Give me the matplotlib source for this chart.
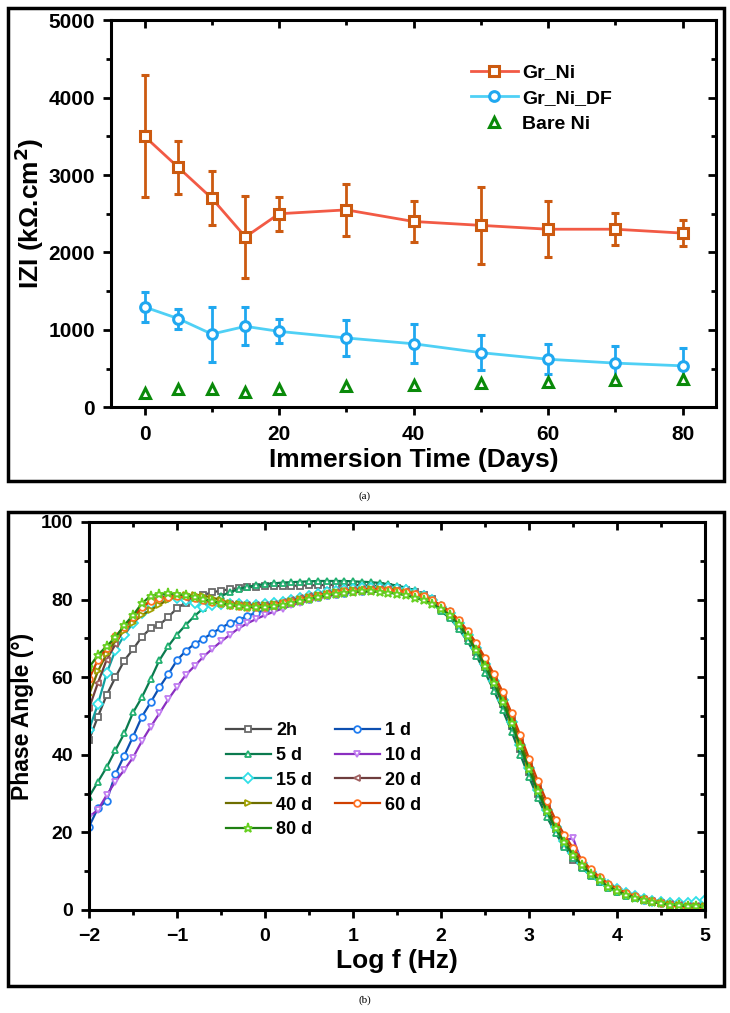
import matplotlib
matplotlib.use('Agg')
import matplotlib.pyplot as plt
import numpy as np
from matplotlib.patches import Rectangle
from matplotlib.lines import Line2D
from matplotlib.ticker import MultipleLocator

plt.rcParams['font.family'] = ['Liberation Sans', 'DejaVu Sans']
plt.rcParams['font.weight'] = 'bold'

#%% (a) impedance modulus vs immersion time
days = [0, 5, 10, 15, 20, 30, 40, 50, 60, 70, 80]
gr_ni = [3500, 3100, 2700, 2200, 2500, 2550, 2400, 2350, 2300, 2300, 2250]
gr_ni_err = [790, 340, 350, 530, 220, 340, 260, 500, 360, 210, 165]
gr_ni_df = [1295, 1145, 945, 1045, 980, 895, 820, 705, 620, 570, 535]
gr_ni_df_err = [200, 130, 355, 245, 155, 235, 250, 230, 195, 215, 235]
bare_ni = [190, 240, 240, 200, 240, 270, 290, 310, 330, 350, 370]

#%% (b) Bode phase, log f = -2 ... 5 in steps of 0.1
logf = np.round(np.arange(-2.0, 5.05, 0.1), 1)

phase_2h = [43.8, 49.8, 55.4, 60.0, 64.3, 67.2, 70.4, 72.6, 73.5, 75.5,
            77.8, 79.2, 80.4, 81.2, 81.9, 82.3, 82.7, 83.0, 83.2, 83.3,
            83.4, 83.5, 83.5, 83.6, 83.6, 83.7, 83.7, 83.8, 83.8, 83.8,
            83.8, 83.7, 83.6, 83.5, 83.3, 83.0, 82.6, 82.0, 81.2, 80.1,
            77.5, 75.8, 73.3, 70.0, 66.5, 62.5, 58.0, 53.0, 47.5, 41.5,
            35.5, 30.0, 25.2, 20.8, 16.8, 13.0, 11.0, 9.0, 7.3, 5.9,
            4.8, 3.9, 3.2, 2.6, 2.1, 1.7, 1.4, 1.2, 1.0, 0.9, 0.8]
phase_1d = [21.5, 26.2, 28.2, 35.0, 39.8, 44.7, 49.8, 53.5, 57.4, 60.8,
            64.4, 66.8, 68.6, 69.9, 71.4, 72.7, 74.0, 74.7, 75.8, 76.6,
            77.3, 78.0, 78.6, 79.2, 79.7, 80.2, 80.7, 81.1, 81.5, 81.8,
            82.1, 82.3, 82.4, 82.4, 82.3, 82.1, 81.7, 81.1, 80.4, 79.4,
            77.9, 76.3, 73.9, 70.8, 67.4, 63.4, 58.9, 54.0, 48.5, 42.4,
            36.4, 30.6, 25.6, 21.2, 17.5, 14.3, 11.6, 9.4, 7.6, 6.1,
            5.0, 4.0, 3.3, 2.7, 2.2, 1.8, 1.5, 1.3, 1.1, 1.0, 0.9]
phase_5d = [29.2, 33.0, 36.8, 41.2, 45.5, 50.9, 54.8, 59.5, 64.4, 68.0,
            71.0, 73.5, 75.8, 77.8, 79.5, 80.9, 81.9, 82.7, 83.3, 83.7,
            84.0, 84.2, 84.4, 84.5, 84.6, 84.7, 84.8, 84.8, 84.8, 84.8,
            84.7, 84.6, 84.5, 84.3, 84.0, 83.6, 83.1, 82.4, 81.4, 80.0,
            77.0, 75.2, 72.5, 69.2, 65.5, 61.2, 56.5, 51.5, 46.0, 40.0,
            34.2, 28.8, 24.0, 19.8, 16.3, 13.3, 10.8, 8.8, 7.1, 5.7,
            4.6, 3.7, 3.0, 2.5, 2.1, 1.8, 1.6, 1.5, 1.5, 1.6, 1.5]
phase_10d = [24.0, 25.8, 29.6, 33.1, 36.1, 39.3, 43.5, 47.2, 50.7, 54.3,
             57.5, 60.6, 62.9, 65.3, 67.3, 69.2, 70.9, 72.6, 73.9, 75.0,
             76.0, 76.9, 77.7, 78.5, 79.2, 79.8, 80.4, 80.9, 81.3, 81.7,
             82.0, 82.2, 82.3, 82.3, 82.2, 82.0, 81.6, 81.0, 80.3, 79.3,
             77.8, 76.2, 73.8, 70.8, 67.4, 63.5, 59.0, 54.2, 48.8, 42.8,
             36.8, 31.0, 26.0, 21.6, 18.0, 18.5, 12.0, 9.6, 7.8, 6.2,
             5.0, 4.0, 3.3, 2.7, 2.2, 1.8, 1.5, 1.3, 1.1, 1.0, 0.9]
phase_15d = [46.5, 53.0, 61.0, 67.0, 70.8, 74.0, 76.5, 78.8, 80.0, 80.6,
             80.3, 79.8, 79.0, 78.2, 78.5, 78.8, 78.9, 78.8, 78.7, 78.7,
             78.8, 79.1, 79.5, 80.0, 80.5, 81.0, 81.5, 81.9, 82.3, 82.6,
             82.8, 83.0, 83.1, 83.1, 83.0, 82.8, 82.4, 81.8, 81.0, 80.0,
             78.2, 76.5, 74.0, 70.9, 67.4, 63.4, 58.9, 54.0, 48.5, 42.5,
             36.5, 30.8, 25.8, 21.4, 17.7, 14.6, 12.0, 9.8, 8.0, 6.5,
             5.3, 4.3, 3.5, 2.9, 2.4, 2.0, 1.8, 1.8, 1.9, 2.0, 2.5]
phase_20d = [52.0, 58.5, 64.5, 68.5, 72.5, 75.5, 78.0, 79.8, 80.6, 80.9,
             80.8, 80.5, 80.1, 79.7, 79.3, 79.0, 78.8, 78.6, 78.5, 78.5,
             78.6, 78.9, 79.3, 79.8, 80.3, 80.8, 81.2, 81.6, 82.0, 82.3,
             82.5, 82.7, 82.8, 82.8, 82.7, 82.5, 82.1, 81.6, 80.9, 80.0,
             78.3, 76.8, 74.5, 71.5, 68.2, 64.3, 59.8, 55.0, 49.6, 43.6,
             37.6, 31.8, 26.7, 22.2, 18.3, 15.0, 12.2, 9.9, 8.0, 6.4,
             5.2, 4.2, 3.4, 2.8, 2.3, 1.9, 1.6, 1.3, 1.1, 1.0, 0.9]
phase_40d = [55.5, 61.5, 66.0, 69.5, 72.0, 74.0, 76.0, 77.3, 78.7, 80.0,
             80.8, 81.1, 81.3, 81.0, 80.5, 79.8, 79.2, 78.8, 78.5, 78.4,
             78.5, 78.8, 79.2, 79.7, 80.2, 80.7, 81.1, 81.5, 81.9, 82.2,
             82.4, 82.6, 82.7, 82.7, 82.6, 82.4, 82.0, 81.5, 80.8, 79.9,
             78.1, 76.6, 74.3, 71.2, 67.9, 64.0, 59.5, 54.7, 49.3, 43.3,
             37.3, 31.5, 26.4, 21.9, 18.1, 14.8, 12.0, 9.7, 7.8, 6.3,
             5.1, 4.1, 3.3, 2.7, 2.2, 1.8, 1.5, 1.3, 1.1, 1.0, 0.9]
phase_60d = [59.5, 64.5, 67.5, 70.5, 73.0, 75.5, 78.0, 79.6, 80.3, 80.7,
             80.9, 80.8, 80.5, 80.0, 79.5, 79.0, 78.6, 78.3, 78.1, 78.1,
             78.2, 78.5, 79.0, 79.5, 80.0, 80.5, 81.0, 81.4, 81.8, 82.1,
             82.3, 82.5, 82.6, 82.6, 82.5, 82.3, 82.0, 81.5, 80.8, 79.8,
             78.5, 77.0, 74.8, 72.0, 68.8, 65.0, 60.8, 56.2, 50.8, 45.0,
             39.0, 33.2, 28.0, 23.3, 19.4, 15.9, 13.0, 10.5, 8.5, 6.8,
             5.5, 4.4, 3.6, 2.9, 2.3, 1.8, 1.2, 0.8, 0.6, 0.5, 0.5]
phase_80d = [62.5, 65.7, 68.0, 70.3, 73.4, 76.0, 79.0, 81.0, 81.4, 81.6,
             81.4, 81.1, 80.6, 80.1, 79.6, 79.1, 78.7, 78.3, 78.1, 78.0,
             78.0, 78.3, 78.7, 79.2, 79.7, 80.2, 80.7, 81.1, 81.5, 81.8,
             82.0, 82.1, 82.1, 82.0, 81.8, 81.5, 81.1, 80.5, 79.8, 78.9,
             77.6, 76.0, 73.6, 70.5, 67.0, 63.0, 58.5, 53.6, 48.2, 42.2,
             36.3, 30.6, 25.6, 21.1, 17.4, 14.2, 11.5, 9.4, 7.6, 6.0,
             4.9, 3.9, 3.2, 2.6, 2.1, 1.7, 1.4, 1.2, 1.0, 0.9, 0.8]

labels_b = ['2h', '1 d', '5 d', '10 d', '15 d', '20 d', '40 d', '60 d', '80 d']
series_b = [phase_2h, phase_1d, phase_5d, phase_10d, phase_15d,
            phase_20d, phase_40d, phase_60d, phase_80d]
line_cols = ['#4a4a4a', '#0d4fb0', '#0b7a4e', '#8a2fc0', '#12a0a0',
             '#6e3d3d', '#6e6e00', '#d04000', '#1f8012']
mark_cols = ['#6a6a6a', '#1f7cf0', '#22b070', '#c07cf0', '#30e0e8',
             '#a06060', '#a0a000', '#ff7020', '#66d020']
marks = ['s', 'o', '^', 'v', 'D', '<', '>', 'o', '*']


def style_axes(ax, fs):
    for sp in ax.spines.values():
        sp.set_linewidth(2.2)
    ax.tick_params(which='both', direction='out', width=2, labelsize=fs, pad=6)
    ax.tick_params(which='major', length=5.5)
    ax.tick_params(which='minor', length=3.5)
    ax.tick_params(axis='x', which='both', pad=7.5)
    ax2 = ax.secondary_xaxis('top')
    ax2.set_xticks(ax.get_xticks(minor=False))
    ax2.xaxis.set_minor_locator(ax.xaxis.get_minor_locator())
    ax2.tick_params(which='both', direction='in', width=2, labeltop=False)
    ax2.tick_params(which='major', length=5.5)
    ax2.tick_params(which='minor', length=3.5)
    ax3 = ax.secondary_yaxis('right')
    ax3.set_yticks(ax.get_yticks(minor=False))
    ax3.yaxis.set_minor_locator(ax.yaxis.get_minor_locator())
    ax3.tick_params(which='both', direction='in', width=2, labelright=False)
    ax3.tick_params(which='major', length=5.5)
    ax3.tick_params(which='minor', length=3.5)
    for t in ax.get_xticklabels() + ax.get_yticklabels():
        t.set_fontweight('bold')


fig = plt.figure(figsize=(7.3, 10.13), dpi=100)

#%% panel (a)
ax1 = fig.add_axes([0.152, 0.598, 0.829, 0.382])
ax1.errorbar(days, gr_ni, yerr=gr_ni_err, color='#f25a45', lw=2, marker='s', ms=6.5,
             mfc='white', mec='#cc5a10', mew=2.2, ecolor='#cc5a10', elinewidth=2,
             capsize=3.2, capthick=2)
ax1.errorbar(days, gr_ni_df, yerr=gr_ni_df_err, color='#4fd0f5', lw=2, marker='o', ms=7,
             mfc='white', mec='#20a8f0', mew=2.2, ecolor='#20a8f0', elinewidth=2,
             capsize=3.2, capthick=2)
ax1.plot(days, bare_ni, ls='none', marker='^', ms=7, mfc='white', mec='#0a8a0a', mew=2.2)
ax1.set_xlim(-5, 85)
ax1.set_ylim(0, 5000)
ax1.xaxis.set_major_locator(MultipleLocator(20))
ax1.xaxis.set_minor_locator(MultipleLocator(10))
ax1.yaxis.set_major_locator(MultipleLocator(1000))
ax1.yaxis.set_minor_locator(MultipleLocator(500))
ax1.set_xlabel('Immersion Time (Days)', fontsize=19, fontweight='bold', labelpad=3)
ax1.set_ylabel('IZI (k\u03a9.cm$^\\mathbf{2}$)', fontsize=19, fontweight='bold', labelpad=2)
style_axes(ax1, 15)
hnd_a = [Line2D([], [], color='#f25a45', lw=2, marker='s', ms=6.5, mfc='white',
                mec='#cc5a10', mew=2.2),
         Line2D([], [], color='#4fd0f5', lw=2, marker='o', ms=7, mfc='white',
                mec='#20a8f0', mew=2.2),
         Line2D([], [], ls='none', marker='^', ms=7, mfc='white', mec='#0a8a0a', mew=2.2)]
ax1.legend(hnd_a, ['Gr_Ni', 'Gr_Ni_DF', 'Bare Ni'], loc='upper left',
           bbox_to_anchor=(0.645, 0.937), bbox_transform=fig.transFigure,
           frameon=False, prop={'weight': 'bold', 'size': 14},
           handlelength=2.4, handletextpad=0.25, labelspacing=0.42, borderpad=0,
           borderaxespad=0)

#%% panel (b)
ax = fig.add_axes([0.122, 0.1017, 0.844, 0.383])
lines_b = {}
for vals, lab, lc, mc, mk in zip(series_b, labels_b, line_cols, mark_cols, marks):
    lines_b[lab], = ax.plot(logf, vals, color=lc, lw=1.6, marker=mk,
                            ms=4.8 if mk != '*' else 6.5,
                            mfc='white', mec=mc, mew=1.3, label=lab)
ax.set_xlim(-2, 5)
ax.set_ylim(0, 100)
ax.xaxis.set_major_locator(MultipleLocator(1))
ax.xaxis.set_minor_locator(MultipleLocator(0.5))
ax.yaxis.set_major_locator(MultipleLocator(20))
ax.yaxis.set_minor_locator(MultipleLocator(10))
ax.set_xlabel('Log f (Hz)', fontsize=19, fontweight='bold', labelpad=3)
ax.set_ylabel('Phase Angle (\u00b0)', fontsize=16.5, fontweight='bold', labelpad=5)
style_axes(ax, 14)
# legend is read row-wise in the figure: column 1 then column 2
leg_order = ['2h', '5 d', '15 d', '40 d', '80 d', '1 d', '10 d', '20 d', '60 d']
ax.legend([lines_b[k] for k in leg_order], leg_order, loc='upper left', ncol=2,
          bbox_to_anchor=(0.309, 0.287), bbox_transform=fig.transFigure,
          frameon=False, prop={'weight': 'bold', 'size': 13},
          handlelength=2.5, handletextpad=0.3, labelspacing=0.43, columnspacing=1.25,
          borderpad=0, borderaxespad=0)

# outer frames and captions
for y0, h in [(1 - 481 / 1013, 473 / 1013), (1 - 986 / 1013, 474 / 1013)]:
    fig.add_artist(Rectangle((8 / 730, y0), 716 / 730, h, transform=fig.transFigure,
                             fill=False, lw=2.5, ec='black'))
fig.text(0.5, 1 - 496 / 1013, '(a)', ha='center', va='center', fontsize=8,
         family='Liberation Serif', fontweight='normal')
fig.text(0.5, 1 - 1000 / 1013, '(b)', ha='center', va='center', fontsize=8,
         family='Liberation Serif', fontweight='normal')

fig.savefig('out.png', dpi=100)
